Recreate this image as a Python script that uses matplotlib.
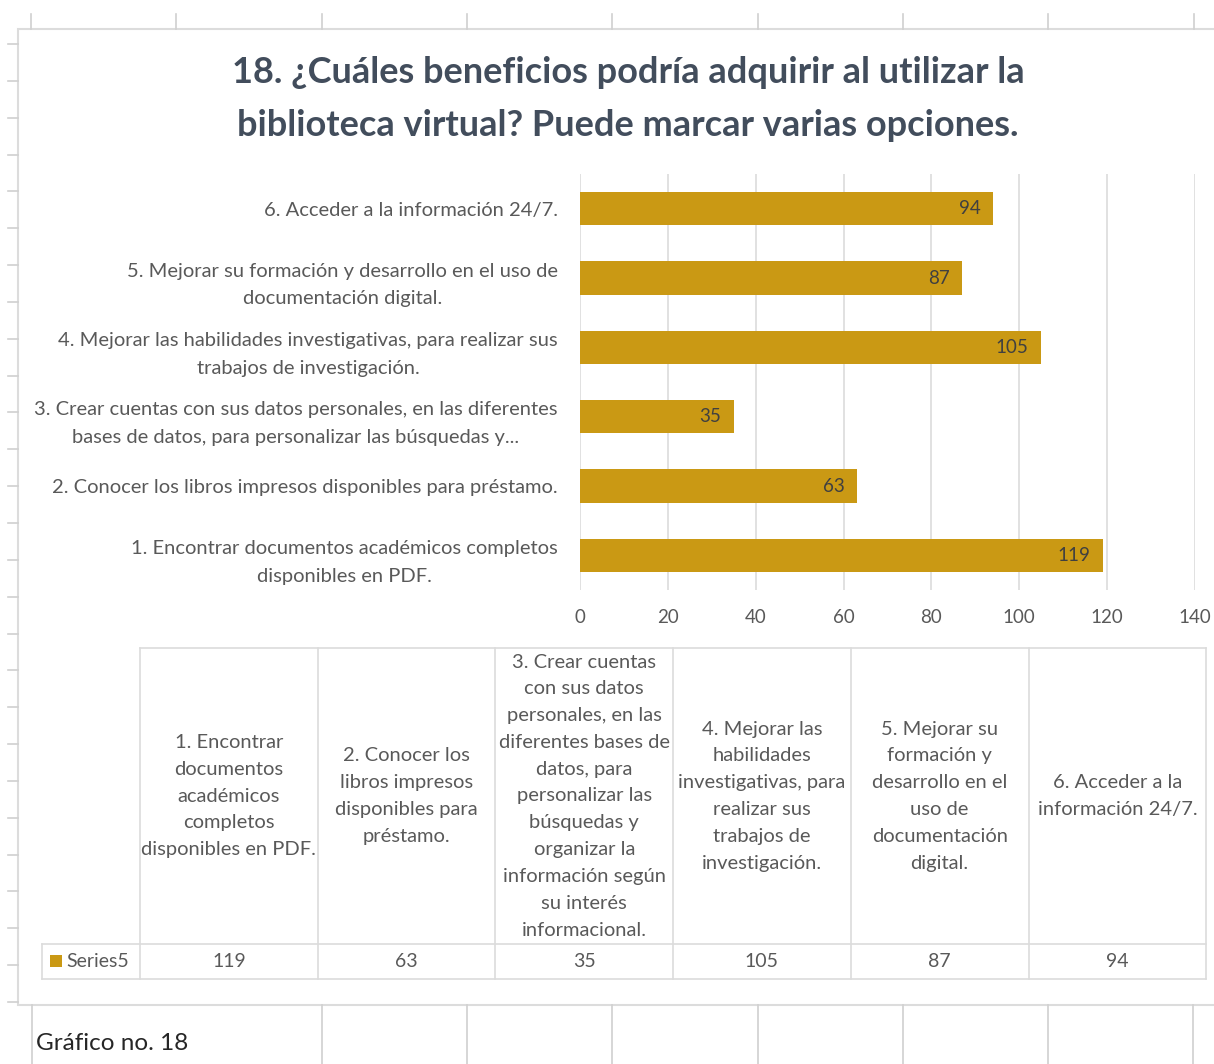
import numpy as np
import matplotlib.pyplot as plt
from matplotlib.patches import Rectangle

plt.rcParams['font.family'] = ['Lato', 'DejaVu Sans']

# data
axis_labels = [
    "1. Encontrar documentos académicos completos\ndisponibles en PDF.",
    "2. Conocer los libros impresos disponibles para préstamo.",
    "3. Crear cuentas con sus datos personales, en las diferentes\nbases de datos, para personalizar las búsquedas y...",
    "4. Mejorar las habilidades investigativas, para realizar sus\ntrabajos de investigación.",
    "5. Mejorar su formación y desarrollo en el uso de\ndocumentación digital.",
    "6. Acceder a la información 24/7.",
]
table_labels = [
    "1. Encontrar\ndocumentos\nacadémicos\ncompletos\ndisponibles en PDF.",
    "2. Conocer los\nlibros impresos\ndisponibles para\npréstamo.",
    "3. Crear cuentas\ncon sus datos\npersonales, en las\ndiferentes bases de\ndatos, para\npersonalizar las\nbúsquedas y\norganizar la\ninformación según\nsu interés\ninformacional.",
    "4. Mejorar las\nhabilidades\ninvestigativas, para\nrealizar sus\ntrabajos de\ninvestigación.",
    "5. Mejorar su\nformación y\ndesarrollo en el\nuso de\ndocumentación\ndigital.",
    "6. Acceder a la\ninformación 24/7.",
]
values = [119, 63, 35, 105, 87, 94]
series_name = "Series5"
xticks = [0, 20, 40, 60, 80, 100, 120, 140]
title = "18. ¿Cuáles beneficios podría adquirir al utilizar la\nbiblioteca virtual? Puede marcar varias opciones."
caption = "Gráfico no. 18"

gold = '#CA9914'
grid_c = '#DCDCDC'
sheet_c = '#D0D0D0'
text_c = '#595959'

W, H = 1214, 1064
fig = plt.figure(figsize=(W / 100, H / 100), dpi=100)

# background layer in pixel units (sheet gridlines, chart frame, table)
bg = fig.add_axes([0, 0, 1, 1], zorder=0)
bg.set_xlim(0, W)
bg.set_ylim(H, 0)
bg.axis('off')

# spreadsheet cells around the chart
for x in [31, 176, 322, 467, 612, 758, 903, 1048, 1194]:
    bg.plot([x, x], [14, 29], color=sheet_c, lw=1.2)
for x in [32, 322, 467, 612, 758, 903, 1048, 1193]:
    bg.plot([x, x], [1005, H], color=sheet_c, lw=1.2)
for y in np.linspace(44, 1002, 27):
    bg.plot([8, 18], [y, y], color=sheet_c, lw=1.2)

# chart frame
bg.add_patch(Rectangle((18, 29), W, 976, facecolor='white', edgecolor=grid_c, lw=1.5))

bg.text(628, 99, title, ha='center', va='center', fontsize=26, fontweight='bold',
        color='#424D5C', linespacing=1.75)
bg.text(36, 1043, caption, ha='left', va='center', fontsize=17.5, color='#262626')

# data table under the chart
t_left, col_w = 140, 177.7
t_top, t_mid, t_bot = 648, 944, 979
edges = t_left + col_w * np.arange(len(values) + 1)
bg.plot([edges[0], edges[-1]], [t_top, t_top], color=grid_c, lw=1.2)
bg.plot([42, edges[-1]], [t_mid, t_mid], color=grid_c, lw=1.2)
bg.plot([42, edges[-1]], [t_bot, t_bot], color=grid_c, lw=1.2)
bg.plot([42, 42], [t_mid, t_bot], color=grid_c, lw=1.2)
for x in edges:
    bg.plot([x, x], [t_top, t_bot], color=grid_c, lw=1.2)
for i, (lab, v) in enumerate(zip(table_labels, values)):
    cx = (edges[i] + edges[i + 1]) / 2
    bg.text(cx, (t_top + t_mid) / 2, lab, ha='center', va='center', fontsize=14.5,
            color=text_c, linespacing=1.7)
    bg.text(cx, (t_mid + t_bot) / 2, str(v), ha='center', va='center', fontsize=14,
            color=text_c)
bg.add_patch(Rectangle((50, 955), 12, 12, facecolor=gold, edgecolor='none'))
bg.text(66, (t_mid + t_bot) / 2, series_name, ha='left', va='center', fontsize=14,
        color=text_c)

# bar chart
ax = fig.add_axes([580 / W, 1 - 590 / H, 615 / W, 416 / H], zorder=2)
ax.set_facecolor('none')
pos = np.arange(len(values))
bars = ax.barh(pos, values, height=0.48, color=gold)
ax.set_xlim(0, 140)
ax.set_ylim(-0.5, len(values) - 0.5)
ax.set_xticks(xticks)
ax.set_yticks(pos)
ax.set_yticklabels(axis_labels, fontsize=14.5, color=text_c, linespacing=1.77)
for t in ax.get_yticklabels():
    t.set_multialignment('center')
ax.tick_params(axis='x', labelsize=13.5, labelcolor=text_c, length=0, pad=14)
ax.tick_params(axis='y', length=0, pad=16)
ax.grid(axis='x', color=grid_c, lw=1.2)
ax.set_axisbelow(True)
for s in ax.spines.values():
    s.set_visible(False)

for v, p in zip(values, pos):
    ax.annotate(str(v), xy=(v, p), xytext=(-9, 0), textcoords='offset points',
                ha='right', va='center', fontsize=13.5, color='#404040')

fig.savefig('out.png', dpi=100)
